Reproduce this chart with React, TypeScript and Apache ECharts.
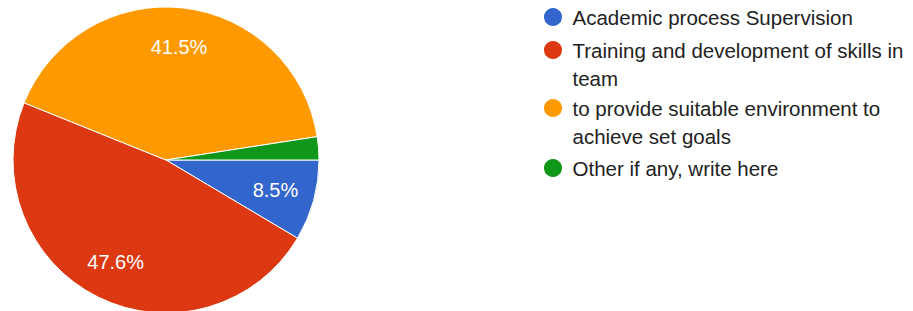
import React, { useEffect, useRef } from "react";
import * as echarts from "echarts";

const categories = [
  "Academic process Supervision",
  "Training and development of skills in team",
  "to provide suitable environment to achieve set goals",
  "Other if any, write here",
];
const legendLines = [
  ["Academic process Supervision"],
  ["Training and development of skills in", "team"],
  ["to provide suitable environment to", "achieve set goals"],
  ["Other if any, write here"],
];
const counts = [7, 39, 34, 2];
const colors = ["#3366cc", "#dc3912", "#ff9900", "#109618"];

const FONT = "'Liberation Sans', Arial, sans-serif";

export default function App() {
  const ref = useRef<HTMLDivElement>(null);
  useEffect(() => {
    if (!ref.current) return;
    const chart = echarts.init(ref.current, null, { renderer: "svg" });
    const LH = 28;
    const centers = [17, 50, 108, 168];
    const legends = categories.map((name, i) => {
      const lines = legendLines[i];
      const extra = lines.length - 1;
      // blank lines above keep the first line centred on the icon
      const shown = [...Array(extra).fill(""), ...lines];
      const top = centers[i] - (shown.length * LH) / 2;
      return {
        orient: "vertical",
        left: 542,
        top,
        padding: 0,
        icon: "circle",
        itemWidth: 29,
        itemHeight: 20,
        data: [name],
        formatter: () => shown.join("\n"),
        textStyle: {
          fontFamily: FONT,
          fontSize: 20.5,
          lineHeight: LH,
          color: "#222222",
        },
      };
    });
    const data = categories.map((name, i) => ({
      name,
      value: counts[i],
      itemStyle: { color: colors[i] },
    }));
    chart.setOption({
      animation: false,
      legend: legends,
      series: [
        {
          type: "pie",
          center: [166, 160],
          radius: 153,
          startAngle: 0,
          clockwise: true,
          percentPrecision: 1,
          label: { show: false },
          labelLine: { show: false },
          itemStyle: { borderColor: "#ffffff", borderWidth: 1 },
          emphasis: { disabled: true },
          data,
        },
        {
          type: "pie",
          center: [166, 160],
          radius: [68, 153],
          startAngle: 0,
          clockwise: true,
          silent: true,
          percentPrecision: 1,
          minShowLabelAngle: 15,
          itemStyle: { color: "rgba(0,0,0,0)", borderWidth: 0 },
          label: {
            show: true,
            position: "inside",
            formatter: "{d}%",
            color: "#ffffff",
            fontFamily: FONT,
            fontSize: 20,
          },
          labelLine: { show: false },
          emphasis: { disabled: true },
          data: categories.map((name, i) => ({ name, value: counts[i] })),
        },
      ],
    });
    return () => chart.dispose();
  }, []);
  return (
    <div
      ref={ref}
      style={{ position: "absolute", left: 0, top: 0, width: 913, height: 311 }}
    />
  );
}
